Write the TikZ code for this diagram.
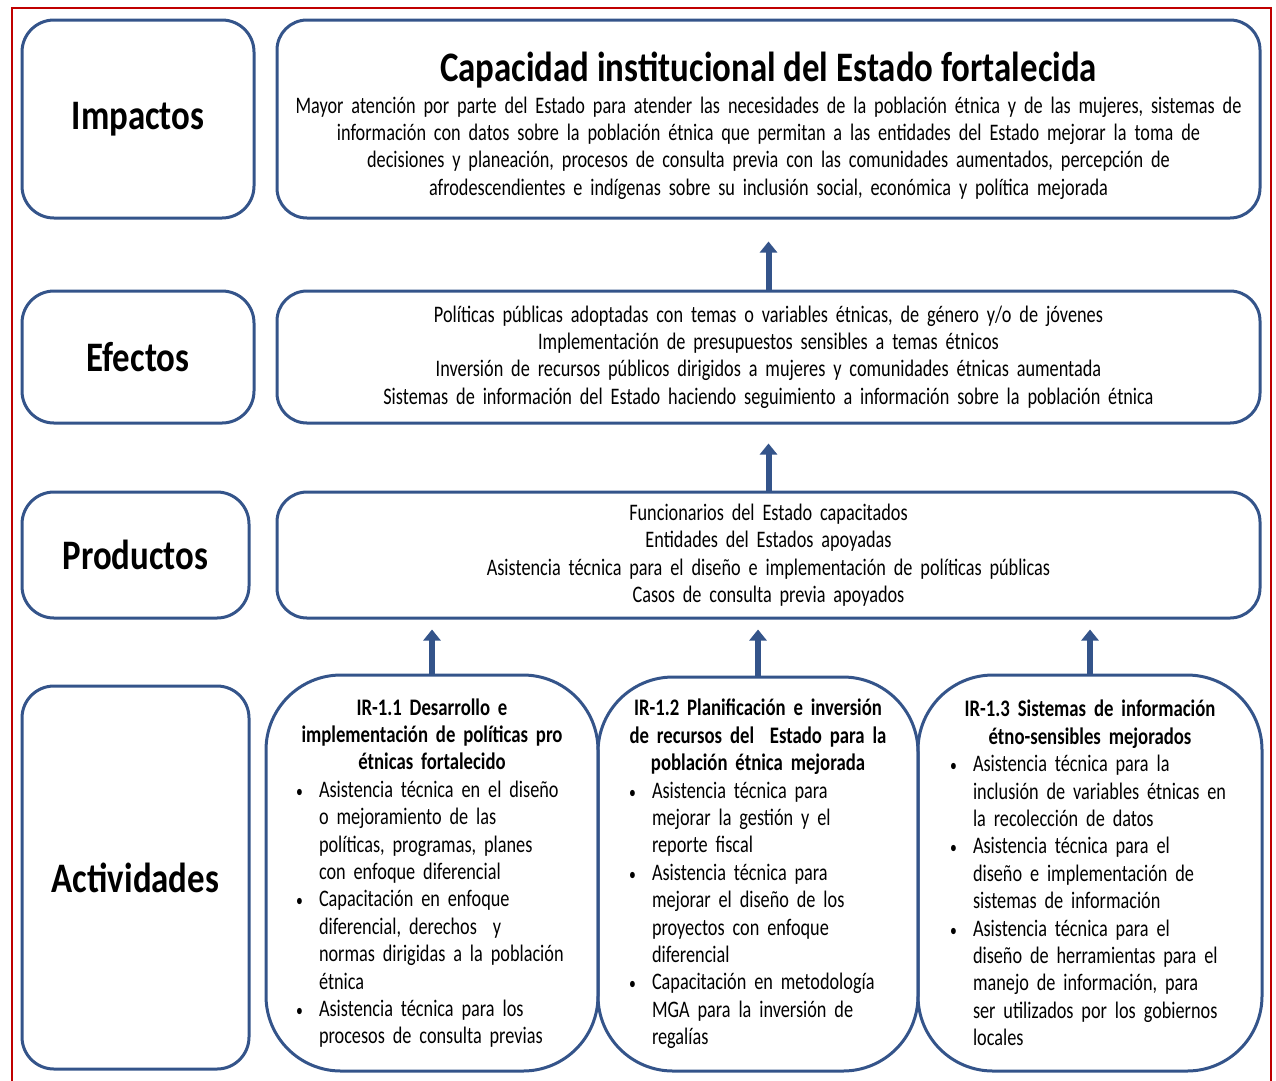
\documentclass[tikz,border=0pt]{standalone}
\usepackage{fontspec}
\setmainfont{Carlito}[FakeStretch=0.77,WordSpace=0.8,BoldFeatures={FakeStretch=0.79}]
\newfontfamily\titular{Carlito}[FakeStretch=0.83]
\usetikzlibrary{arrows.meta}
\definecolor{azul}{RGB}{52,84,138}
\definecolor{rojo}{RGB}{192,0,0}
\hyphenpenalty=10000
\newcommand{\cuerpo}{\fontsize{23.7}{27.4}\selectfont}
\newcommand{\punto}[1]{\par\hangindent=26pt\hangafter=1\noindent\makebox[26pt][l]{\hspace{3pt}\scalebox{0.75}{\textbullet}}#1\par}

\begin{document}
\begin{tikzpicture}[x=1pt,y=-1pt,
    etiqueta/.style={draw=azul,line width=3pt,rounded corners=32pt,inner sep=0pt,
      font=\titular\fontsize{42}{50}\selectfont\bfseries},
    caja/.style={draw=azul,line width=3pt,rounded corners=30pt,inner sep=0pt,
      minimum width=983pt,text width=960pt,align=center,font=\cuerpo},
    actividad/.style={draw=azul,line width=3pt,rounded corners=75pt,inner sep=0pt,
      align=left,font=\cuerpo},
    flecha/.style={azul,line width=6pt,-{Triangle[width=17pt,length=11pt]}}]
      \useasboundingbox (0,0) rectangle (1276,1080);
      \draw[rojo,line width=2pt] (12,8) rectangle (1271,1100);

      \node[etiqueta,minimum width=232pt,minimum height=198pt] (impactos) at (138,119) {Impactos};
      \node[etiqueta,minimum width=232pt,minimum height=132pt] (efectos) at (138,357) {Efectos};
      \node[etiqueta,minimum width=227pt,minimum height=126pt] (productos) at (135.5,555) {Productos};
      \node[etiqueta,minimum width=227pt,minimum height=383pt] (actividades) at (135.5,877.5) {Actividades};

      \node[caja,minimum height=198pt] (impacto) at (768.5,119)
        {\rule{0pt}{43pt}{\titular\fontsize{42}{50}\selectfont\bfseries Capacidad institucional del Estado fortalecida}\\[4pt]
         Mayor atención por parte del Estado para atender las necesidades de la población étnica y de las mujeres, sistemas de\\
         información con datos sobre la población étnica que permitan a las entidades del Estado mejorar la toma de\\
         decisiones y planeación, procesos de consulta previa con las comunidades aumentados, percepción de\\
         afrodescendientes e indígenas sobre su inclusión social, económica y política mejorada};
      \node[caja,minimum height=132pt] (efecto) at (768.5,357)
        {Políticas públicas adoptadas con temas o variables étnicas, de género y/o de jóvenes\\
         Implementación de presupuestos sensibles a temas étnicos\\
         Inversión de recursos públicos dirigidos a mujeres y comunidades étnicas aumentada\\
         Sistemas de información del Estado haciendo seguimiento a información sobre la población étnica};
      \node[caja,minimum height=126pt] (producto) at (768.5,555)
        {Funcionarios del Estado capacitados\\
         Entidades del Estados apoyadas\\
         Asistencia técnica para el diseño e implementación de políticas públicas\\
         Casos de consulta previa apoyados};

      \node[actividad,text width=278pt,minimum width=332pt,minimum height=396pt] (ir1) at (432,873)
        {{\centering\bfseries IR-1.1 Desarrollo e\\ implementación de políticas pro\\ étnicas fortalecido\par}
         \punto{Asistencia técnica en el diseño\newline o mejoramiento de las\newline políticas, programas, planes\newline con enfoque diferencial}
         \punto{Capacitación en enfoque\newline diferencial, derechos~ y\newline normas dirigidas a la población\newline étnica}
         \punto{Asistencia técnica para los\newline procesos de consulta previas}};
      \node[actividad,text width=264pt,minimum width=320pt,minimum height=394pt] (ir2) at (758,874)
        {{\centering\bfseries IR-1.2 Planificación e inversión\\ de recursos del~ Estado para la\\ población étnica mejorada\par}
         \punto{Asistencia técnica para\newline mejorar la gestión y el\newline reporte fiscal}
         \punto{Asistencia técnica para\newline mejorar el diseño de los\newline proyectos con enfoque\newline diferencial}
         \punto{Capacitación en metodología\newline MGA para la inversión de\newline regalías}};
      \node[actividad,text width=286pt,minimum width=344pt,minimum height=396pt] (ir3) at (1090,873)
        {{\centering\bfseries IR-1.3 Sistemas de información\\ étno-sensibles mejorados\par}
         \punto{Asistencia técnica para la\newline inclusión de variables étnicas en\newline la recolección de datos}
         \punto{Asistencia técnica para el\newline diseño e implementación de\newline sistemas de información}
         \punto{Asistencia técnica para el\newline diseño de herramientas para el\newline manejo de información, para\newline ser utilizados por los gobiernos\newline locales}};

      \begin{scope}[flecha]
        \draw[shorten >=22pt] (efecto.north) -- (impacto.south);
        \draw[shorten >=19pt] (producto.north) -- (efecto.south);
        \draw[shorten >=10pt] (ir1.north) -- (ir1.north |- producto.south);
        \draw[shorten >=10pt] (ir2.north) -- (ir2.north |- producto.south);
        \draw[shorten >=10pt] (ir3.north) -- (ir3.north |- producto.south);
      \end{scope}
    \end{tikzpicture}
\end{document}
